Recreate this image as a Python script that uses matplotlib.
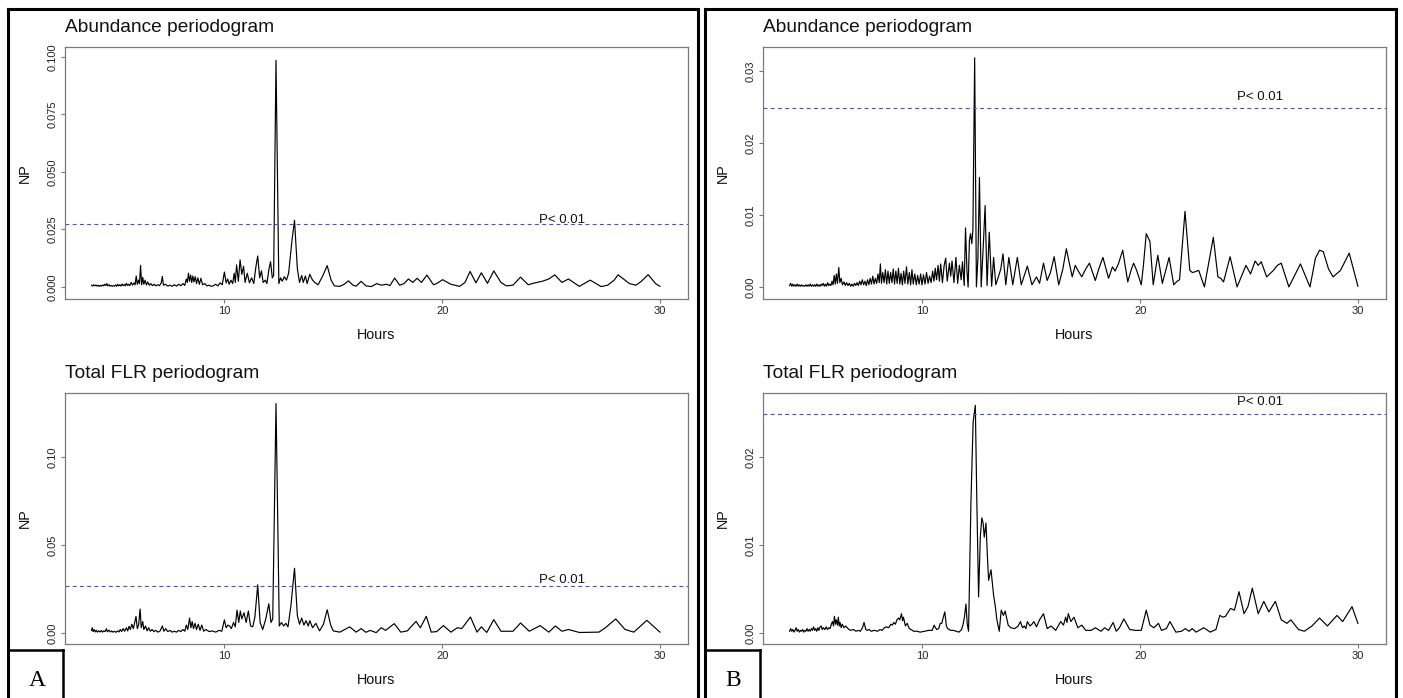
import matplotlib
matplotlib.use("Agg")
import matplotlib.pyplot as plt
from matplotlib.lines import Line2D

# ---------------- data ----------------
a_abund_hours = [3.90,3.95,4.00,4.05,4.10,4.15,4.20,4.25,4.30,4.35,4.40,4.45,4.50,4.55,4.60,4.65,4.70,4.75,4.80,4.85,4.90,4.95,5.00,5.05,5.10,5.15,5.20,5.25,5.30,5.35,5.40,5.45,5.50,5.55,5.60,5.65,5.72,5.78,5.85,5.90,5.95,6.00,6.06,6.10,6.15,6.20,6.25,6.30,6.36,6.42,6.48,6.55,6.62,6.70,6.78,6.86,6.95,7.02,7.10,7.15,7.20,7.30,7.40,7.50,7.60,7.70,7.80,7.90,8.00,8.10,8.18,8.25,8.30,8.35,8.40,8.45,8.50,8.55,8.60,8.66,8.72,8.78,8.85,8.92,9.00,9.10,9.20,9.30,9.40,9.50,9.60,9.70,9.80,9.90,10.00,10.08,10.15,10.22,10.30,10.38,10.45,10.50,10.56,10.64,10.72,10.80,10.88,10.95,11.05,11.15,11.25,11.35,11.45,11.53,11.62,11.70,11.78,11.88,11.95,12.05,12.12,12.20,12.26,12.37,12.50,12.58,12.66,12.75,12.85,12.95,13.10,13.22,13.35,13.45,13.55,13.62,13.72,13.80,13.92,14.05,14.15,14.30,14.50,14.72,14.90,15.05,15.30,15.50,15.70,15.90,16.05,16.28,16.50,16.75,17.00,17.20,17.45,17.60,17.82,18.05,18.25,18.45,18.65,18.85,19.05,19.30,19.60,19.75,20.02,20.40,20.80,21.05,21.28,21.55,21.80,22.08,22.37,22.70,22.95,23.25,23.60,23.95,24.25,24.60,24.90,25.17,25.50,25.80,26.30,26.80,27.30,27.60,27.90,28.08,28.60,28.90,29.15,29.46,29.80,30.00]
a_abund_np = [0.0008,0.0004,0.0010,0.0005,0.0009,0.0004,0.0008,0.0003,0.0007,0.0004,0.0009,0.0005,0.0012,0.0006,0.0015,0.0005,0.0010,0.0004,0.0007,0.0003,0.0006,0.0004,0.0009,0.0003,0.0012,0.0005,0.0010,0.0004,0.0013,0.0006,0.0011,0.0005,0.0016,0.0007,0.0012,0.0006,0.0020,0.0008,0.0018,0.0010,0.0048,0.0012,0.0030,0.0015,0.0094,0.0010,0.0042,0.0012,0.0030,0.0009,0.0022,0.0008,0.0015,0.0006,0.0012,0.0005,0.0010,0.0006,0.0018,0.0046,0.0008,0.0012,0.0004,0.0008,0.0003,0.0010,0.0004,0.0012,0.0006,0.0015,0.0007,0.0035,0.0020,0.0060,0.0025,0.0052,0.0020,0.0048,0.0022,0.0045,0.0015,0.0040,0.0012,0.0038,0.0010,0.0015,0.0005,0.0008,0.0003,0.0006,0.0012,0.0005,0.0018,0.0010,0.0065,0.0018,0.0035,0.0012,0.0030,0.0015,0.0060,0.0020,0.0096,0.0025,0.0118,0.0055,0.0090,0.0020,0.0060,0.0018,0.0040,0.0015,0.0090,0.0135,0.0040,0.0070,0.0020,0.0030,0.0015,0.0080,0.0110,0.0040,0.0050,0.0985,0.0015,0.0040,0.0025,0.0045,0.0030,0.0060,0.0200,0.0290,0.0080,0.0020,0.0050,0.0020,0.0048,0.0015,0.0055,0.0030,0.0020,0.0010,0.0045,0.0093,0.0030,0.0005,0.0003,0.0012,0.0027,0.0008,0.0004,0.0025,0.0005,0.0002,0.0015,0.0008,0.0012,0.0006,0.0039,0.0008,0.0015,0.0035,0.0020,0.0038,0.0020,0.0052,0.0010,0.0015,0.0032,0.0012,0.0003,0.0020,0.0068,0.0018,0.0062,0.0016,0.0070,0.0020,0.0005,0.0008,0.0043,0.0010,0.0018,0.0025,0.0035,0.0053,0.0020,0.0035,0.0003,0.0030,0.0002,0.0008,0.0030,0.0053,0.0015,0.0008,0.0025,0.0054,0.0015,0.0003]

a_flr_hours = [3.90,3.93,3.97,4.02,4.07,4.12,4.17,4.22,4.28,4.34,4.40,4.46,4.52,4.58,4.63,4.70,4.76,4.82,4.88,4.95,5.02,5.10,5.16,5.22,5.28,5.35,5.42,5.50,5.56,5.62,5.68,5.75,5.82,5.88,5.94,6.00,6.06,6.13,6.18,6.25,6.30,6.38,6.45,6.52,6.60,6.68,6.76,6.85,6.95,7.05,7.15,7.22,7.30,7.40,7.50,7.60,7.70,7.80,7.90,8.00,8.10,8.18,8.25,8.32,8.40,8.46,8.52,8.58,8.65,8.72,8.80,8.88,8.96,9.05,9.15,9.30,9.45,9.60,9.75,9.88,10.00,10.08,10.16,10.24,10.32,10.42,10.50,10.58,10.66,10.73,10.80,10.90,11.00,11.10,11.20,11.30,11.40,11.53,11.64,11.76,11.90,12.04,12.14,12.22,12.37,12.52,12.62,12.72,12.82,12.92,13.05,13.22,13.35,13.45,13.55,13.65,13.75,13.85,13.92,14.05,14.20,14.37,14.55,14.72,14.88,15.00,15.30,15.50,15.75,16.05,16.28,16.50,16.70,16.97,17.20,17.40,17.80,18.10,18.40,18.80,19.00,19.27,19.50,19.75,20.06,20.40,20.70,20.90,21.30,21.60,21.80,22.05,22.37,22.70,23.25,23.60,24.00,24.50,24.90,25.20,25.50,25.80,26.30,27.20,27.50,27.97,28.40,28.80,29.40,30.00]
a_flr_np = [0.0015,0.0030,0.0008,0.0020,0.0006,0.0015,0.0005,0.0012,0.0006,0.0014,0.0005,0.0012,0.0008,0.0024,0.0007,0.0016,0.0006,0.0012,0.0005,0.0010,0.0004,0.0012,0.0006,0.0020,0.0008,0.0025,0.0010,0.0030,0.0012,0.0038,0.0020,0.0050,0.0025,0.0060,0.0094,0.0025,0.0045,0.0136,0.0030,0.0065,0.0020,0.0040,0.0012,0.0030,0.0010,0.0020,0.0008,0.0015,0.0005,0.0012,0.0040,0.0010,0.0025,0.0008,0.0015,0.0005,0.0010,0.0005,0.0015,0.0008,0.0020,0.0010,0.0045,0.0020,0.0085,0.0030,0.0065,0.0025,0.0055,0.0020,0.0050,0.0015,0.0045,0.0010,0.0020,0.0008,0.0012,0.0005,0.0015,0.0010,0.0075,0.0030,0.0045,0.0040,0.0025,0.0060,0.0035,0.0130,0.0060,0.0125,0.0080,0.0115,0.0060,0.0125,0.0040,0.0035,0.0090,0.0274,0.0060,0.0020,0.0080,0.0166,0.0060,0.0080,0.1304,0.0040,0.0060,0.0040,0.0055,0.0035,0.0150,0.0368,0.0100,0.0050,0.0085,0.0045,0.0070,0.0040,0.0070,0.0030,0.0055,0.0012,0.0050,0.0132,0.0045,0.0012,0.0005,0.0018,0.0035,0.0005,0.0025,0.0004,0.0015,0.0002,0.0030,0.0015,0.0053,0.0005,0.0012,0.0066,0.0030,0.0095,0.0005,0.0008,0.0042,0.0005,0.0030,0.0025,0.0091,0.0005,0.0035,0.0003,0.0076,0.0010,0.0010,0.0057,0.0010,0.0042,0.0005,0.0040,0.0010,0.0020,0.0003,0.0005,0.0030,0.0080,0.0020,0.0005,0.0072,0.0005]

b_abund_hours = [3.90,3.95,4.00,4.05,4.10,4.15,4.20,4.25,4.30,4.35,4.40,4.45,4.50,4.55,4.60,4.65,4.70,4.75,4.80,4.85,4.90,4.95,5.00,5.05,5.10,5.15,5.20,5.25,5.30,5.35,5.40,5.45,5.50,5.55,5.60,5.65,5.70,5.75,5.80,5.85,5.90,5.95,6.00,6.05,6.10,6.16,6.21,6.27,6.33,6.40,6.46,6.52,6.58,6.64,6.70,6.76,6.82,6.88,6.94,7.00,7.06,7.12,7.18,7.24,7.30,7.36,7.42,7.48,7.54,7.60,7.66,7.72,7.78,7.84,7.90,7.96,8.02,8.07,8.12,8.18,8.24,8.30,8.36,8.42,8.48,8.54,8.60,8.66,8.72,8.78,8.84,8.90,8.96,9.02,9.08,9.14,9.20,9.27,9.33,9.40,9.46,9.52,9.58,9.65,9.72,9.78,9.85,9.92,9.98,10.05,10.12,10.19,10.26,10.33,10.40,10.47,10.53,10.59,10.65,10.72,10.78,10.84,10.92,11.00,11.07,11.14,11.24,11.30,11.36,11.45,11.54,11.62,11.70,11.78,11.84,11.92,11.98,12.05,12.10,12.16,12.21,12.27,12.32,12.40,12.48,12.55,12.62,12.70,12.80,12.88,12.97,13.07,13.18,13.27,13.37,13.50,13.60,13.70,13.83,13.97,14.15,14.36,14.54,14.70,14.82,15.03,15.24,15.38,15.56,15.73,15.88,16.05,16.26,16.45,16.61,16.88,17.02,17.14,17.32,17.50,17.67,17.94,18.10,18.29,18.55,18.73,18.85,19.00,19.20,19.43,19.60,19.70,19.84,20.05,20.15,20.28,20.45,20.60,20.81,21.02,21.33,21.54,21.70,21.81,22.06,22.28,22.40,22.51,22.69,22.95,23.36,23.57,23.70,23.83,24.13,24.45,24.86,25.07,25.28,25.42,25.56,25.81,26.12,26.30,26.48,26.83,27.36,27.80,28.05,28.24,28.41,28.65,28.86,29.20,29.60,30.00]
b_abund_np = [0.0002,0.0005,0.0001,0.0004,0.0001,0.0003,0.0001,0.0004,0.0001,0.0003,0.0001,0.0003,0.0001,0.0002,0.0001,0.0003,0.0001,0.0003,0.0001,0.0004,0.0001,0.0003,0.0001,0.0003,0.0001,0.0004,0.0001,0.0003,0.0001,0.0004,0.0002,0.0005,0.0001,0.0004,0.0001,0.0006,0.0002,0.0004,0.0002,0.0008,0.0003,0.0016,0.0004,0.0018,0.0005,0.0027,0.0006,0.0012,0.0003,0.0007,0.0002,0.0006,0.0002,0.0005,0.0001,0.0004,0.0001,0.0005,0.0002,0.0006,0.0002,0.0008,0.0003,0.0010,0.0003,0.0008,0.0002,0.0010,0.0003,0.0012,0.0004,0.0015,0.0004,0.0012,0.0005,0.0018,0.0006,0.0032,0.0005,0.0020,0.0006,0.0024,0.0004,0.0022,0.0005,0.0020,0.0006,0.0025,0.0004,0.0022,0.0005,0.0026,0.0004,0.0019,0.0003,0.0022,0.0005,0.0028,0.0004,0.0020,0.0003,0.0024,0.0004,0.0018,0.0003,0.0016,0.0004,0.0018,0.0003,0.0017,0.0004,0.0020,0.0005,0.0015,0.0006,0.0022,0.0008,0.0026,0.0010,0.0030,0.0008,0.0032,0.0006,0.0030,0.0040,0.0008,0.0033,0.0015,0.0036,0.0006,0.0041,0.0005,0.0030,0.0010,0.0035,0.0002,0.0082,0.0020,0.0000,0.0065,0.0074,0.0060,0.0080,0.0318,0.0000,0.0040,0.0152,0.0000,0.0060,0.0113,0.0002,0.0076,0.0001,0.0041,0.0003,0.0015,0.0025,0.0046,0.0003,0.0041,0.0003,0.0041,0.0003,0.0018,0.0029,0.0003,0.0014,0.0005,0.0033,0.0009,0.0020,0.0042,0.0003,0.0025,0.0053,0.0014,0.0030,0.0023,0.0014,0.0025,0.0033,0.0009,0.0025,0.0041,0.0012,0.0028,0.0022,0.0032,0.0051,0.0007,0.0025,0.0033,0.0023,0.0003,0.0030,0.0074,0.0063,0.0003,0.0044,0.0005,0.0041,0.0003,0.0008,0.0010,0.0105,0.0023,0.0020,0.0021,0.0023,0.0000,0.0069,0.0014,0.0012,0.0007,0.0042,0.0000,0.0030,0.0018,0.0036,0.0030,0.0035,0.0014,0.0023,0.0030,0.0033,0.0000,0.0032,0.0000,0.0040,0.0051,0.0049,0.0025,0.0014,0.0023,0.0047,0.0001]

b_flr_hours = [3.90,3.95,4.00,4.05,4.10,4.15,4.20,4.25,4.30,4.35,4.40,4.45,4.50,4.55,4.60,4.65,4.70,4.75,4.80,4.85,4.90,4.95,5.00,5.05,5.10,5.15,5.20,5.25,5.30,5.35,5.40,5.45,5.52,5.58,5.64,5.70,5.76,5.82,5.87,5.92,5.96,6.01,6.05,6.10,6.14,6.18,6.22,6.27,6.32,6.40,6.48,6.58,6.70,6.84,6.95,7.05,7.15,7.25,7.32,7.40,7.46,7.55,7.65,7.80,7.95,8.05,8.16,8.25,8.34,8.45,8.55,8.62,8.69,8.76,8.83,8.90,8.96,9.04,9.09,9.13,9.22,9.30,9.40,9.48,9.60,9.75,9.90,10.10,10.30,10.45,10.54,10.60,10.66,10.75,10.82,10.89,10.96,11.03,11.10,11.16,11.30,11.42,11.55,11.68,11.80,11.86,11.93,12.00,12.06,12.12,12.23,12.33,12.43,12.50,12.58,12.66,12.73,12.79,12.84,12.92,12.98,13.04,13.15,13.27,13.35,13.42,13.53,13.62,13.72,13.80,13.94,14.06,14.24,14.40,14.50,14.60,14.68,14.75,14.82,14.94,15.03,15.12,15.24,15.38,15.56,15.73,15.91,16.12,16.35,16.48,16.58,16.64,16.70,16.82,16.96,17.14,17.32,17.50,17.76,17.94,18.20,18.37,18.55,18.76,18.90,19.05,19.25,19.52,19.78,20.05,20.28,20.45,20.63,20.84,20.98,21.20,21.37,21.64,21.90,22.07,22.25,22.39,22.57,22.92,23.22,23.48,23.66,23.80,23.92,24.15,24.33,24.54,24.77,24.95,25.15,25.42,25.68,25.91,26.21,26.48,26.74,26.92,27.27,27.54,27.89,28.24,28.60,29.04,29.30,29.73,30.00]
b_flr_np = [0.0002,0.0005,0.0002,0.0004,0.0001,0.0003,0.0006,0.0002,0.0004,0.0001,0.0003,0.0002,0.0004,0.0001,0.0003,0.0002,0.0005,0.0002,0.0004,0.0002,0.0005,0.0003,0.0007,0.0003,0.0005,0.0002,0.0006,0.0003,0.0007,0.0008,0.0004,0.0006,0.0004,0.0007,0.0004,0.0006,0.0005,0.0010,0.0013,0.0008,0.0019,0.0010,0.0015,0.0009,0.0018,0.0008,0.0012,0.0006,0.0010,0.0006,0.0008,0.0005,0.0003,0.0004,0.0002,0.0003,0.0002,0.0006,0.0012,0.0004,0.0003,0.0004,0.0002,0.0003,0.0002,0.0004,0.0003,0.0006,0.0007,0.0006,0.0010,0.0009,0.0012,0.0010,0.0015,0.0017,0.0015,0.0022,0.0014,0.0018,0.0008,0.0011,0.0005,0.0004,0.0002,0.0002,0.0001,0.0002,0.0003,0.0003,0.0009,0.0006,0.0004,0.0005,0.0011,0.0011,0.0018,0.0024,0.0008,0.0005,0.0003,0.0003,0.0002,0.0001,0.0004,0.0009,0.0018,0.0033,0.0010,0.0002,0.0150,0.0240,0.0259,0.0150,0.0041,0.0110,0.0131,0.0125,0.0109,0.0125,0.0090,0.0060,0.0072,0.0043,0.0030,0.0015,0.0002,0.0026,0.0020,0.0025,0.0009,0.0006,0.0005,0.0008,0.0013,0.0006,0.0008,0.0005,0.0013,0.0008,0.0010,0.0013,0.0007,0.0015,0.0022,0.0005,0.0008,0.0003,0.0013,0.0009,0.0018,0.0012,0.0022,0.0013,0.0018,0.0006,0.0009,0.0003,0.0003,0.0006,0.0002,0.0006,0.0003,0.0012,0.0002,0.0006,0.0016,0.0004,0.0003,0.0003,0.0026,0.0009,0.0006,0.0011,0.0003,0.0005,0.0013,0.0001,0.0002,0.0005,0.0002,0.0005,0.0001,0.0006,0.0001,0.0004,0.0020,0.0018,0.0019,0.0028,0.0026,0.0047,0.0022,0.0030,0.0051,0.0022,0.0036,0.0024,0.0036,0.0015,0.0011,0.0015,0.0004,0.0002,0.0008,0.0017,0.0008,0.0020,0.0013,0.0030,0.0011]

x_ticks = [10, 20, 30]
a_abund_yticks = [0.000, 0.025, 0.050, 0.075, 0.100]
a_abund_ylabels = ["0.000", "0.025", "0.050", "0.075", "0.100"]
a_flr_yticks = [0.00, 0.05, 0.10]
a_flr_ylabels = ["0.00", "0.05", "0.10"]
b_abund_yticks = [0.00, 0.01, 0.02, 0.03]
b_abund_ylabels = ["0.00", "0.01", "0.02", "0.03"]
b_flr_yticks = [0.00, 0.01, 0.02]
b_flr_ylabels = ["0.00", "0.01", "0.02"]

thresholds = {"a_abund": 0.0274, "a_flr": 0.0269, "b_abund": 0.0249, "b_flr": 0.0249}
sig_label_y = {"a_abund": 0.0280, "a_flr": 0.0284, "b_abund": 0.0260, "b_flr": 0.0259}
titles = ["Abundance periodogram", "Total FLR periodogram"]

# ---------------- layout ----------------
W, H = 1403, 698
plt.rcParams["font.family"] = ["Liberation Sans", "DejaVu Sans"]
fig = plt.figure(figsize=(W / 100, H / 100), dpi=100)
fig.patch.set_facecolor("white")


def rect(l, t, r, b):
    return [l / W, 1 - b / H, (r - l) / W, (b - t) / H]


FRAME = "#7a7a7a"

panels = [
    dict(key="a_abund", hours=a_abund_hours, vals=a_abund_np, box=(65, 47, 688, 299),
         ylim=(-0.0052, 0.1043), yt=a_abund_yticks, yl=a_abund_ylabels, title=titles[0]),
    dict(key="a_flr", hours=a_flr_hours, vals=a_flr_np, box=(65, 393, 688, 644),
         ylim=(-0.00625, 0.1364), yt=a_flr_yticks, yl=a_flr_ylabels, title=titles[1]),
    dict(key="b_abund", hours=b_abund_hours, vals=b_abund_np, box=(763, 47, 1386, 299),
         ylim=(-0.00167, 0.0333), yt=b_abund_yticks, yl=b_abund_ylabels, title=titles[0]),
    dict(key="b_flr", hours=b_flr_hours, vals=b_flr_np, box=(763, 393, 1386, 644),
         ylim=(-0.00125, 0.0273), yt=b_flr_yticks, yl=b_flr_ylabels, title=titles[1]),
]

for p in panels:
    l, t, r, b = p["box"]
    ax = fig.add_axes(rect(l, t, r, b))
    ax.plot(p["hours"], p["vals"], color="black", lw=0.85, solid_joinstyle="round")
    ax.axhline(thresholds[p["key"]], color="#4646ff", lw=0.8, linestyle=(0, (3.5, 3)))
    ax.text(25.5, sig_label_y[p["key"]], "P< 0.01", ha="center", va="baseline",
            fontsize=9.5, color="#111111")
    ax.set_xlim(2.68, 31.29)
    ax.set_ylim(*p["ylim"])
    ax.set_xticks(x_ticks)
    ax.set_xticklabels([str(v) for v in x_ticks])
    ax.set_yticks(p["yt"])
    ax.set_yticklabels(p["yl"], rotation=90, va="center", ha="right")
    ax.tick_params(direction="out", length=3, width=0.8, color=FRAME, labelsize=8,
                   labelcolor="#222222", pad=2)
    for s in ax.spines.values():
        s.set_color(FRAME)
        s.set_linewidth(0.9)
    # title, axis labels
    fig.text(l / W, 1 - (t - 19) / H, p["title"], ha="left", va="center", fontsize=13.8,
             color="#111111")
    fig.text((l + r) / 2 / W, 1 - (b + 36) / H, "Hours", ha="center", va="center",
             fontsize=10.4, color="#111111")
    fig.text((l - 40) / W, 1 - (t + b) / 2 / H, "NP", ha="center", va="center",
             rotation=90, fontsize=10.4, color="#111111")


# ---------------- outer frames and A/B labels ----------------
def seg(x0, y0, x1, y1, lw=2.2):
    fig.add_artist(Line2D([x0 / W, x1 / W], [1 - y0 / H, 1 - y1 / H], color="black",
                          lw=lw, solid_capstyle="projecting", transform=fig.transFigure))


for (x0, x1) in [(8, 698), (705, 1396)]:
    seg(x0, 8.5, x1, 8.5)
    seg(x0, 8.5, x0, 710)
    seg(x1, 8.5, x1, 710)
    seg(x0, 650, x0 + 55, 650, lw=1.8)
    seg(x0 + 55, 650, x0 + 55, 710, lw=1.8)

fig.text(37 / W, 1 - 681 / H, "A", ha="center", va="center", fontsize=17,
         family="Liberation Serif")
fig.text(733 / W, 1 - 681 / H, "B", ha="center", va="center", fontsize=17,
         family="Liberation Serif")

fig.savefig("out.png", dpi=100, facecolor="white")
